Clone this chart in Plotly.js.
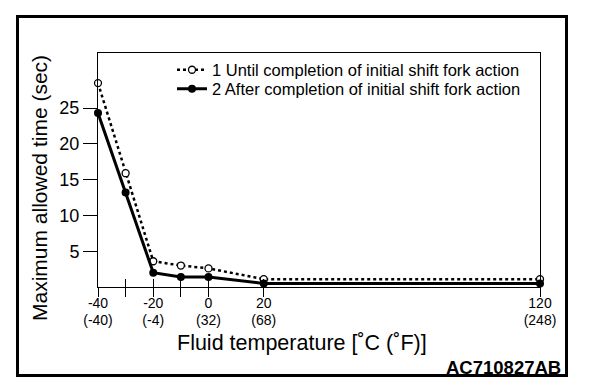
<!DOCTYPE html>
<html>
<head>
<meta charset="utf-8">
<script src="https://cdn.plot.ly/plotly-3.0.1.min.js"></script>
<style>
  html, body { margin: 0; padding: 0; background: #fff; }
  #wrap { position: relative; width: 608px; height: 390px; }
  #chart { position: absolute; left: 0; top: 0; width: 608px; height: 390px; }
  #frame { position: absolute; left: 16px; top: 15px; width: 552px; height: 362px;
           box-sizing: border-box; border: 3px solid #000; pointer-events: none; }
</style>
</head>
<body>
<div id="wrap"><div id="chart"></div><div id="frame"></div></div>
<script>
// ---- data ----
const tempsC = [-40, -30, -20, -10, 0, 20, 120];
const untilInitial = [28.5, 15.9, 3.6, 3.0, 2.6, 1.1, 1.1];
const afterInitial = [24.3, 13.2, 2.0, 1.4, 1.4, 0.5, 0.5];
const seriesNames = ['1 Until completion of initial shift fork action',
                     '2 After completion of initial shift fork action'];
const xTickVals = [-40, -30, -20, -10, 0, 20, 120];
const xTickTop = ['-40', '', '-20', '', '0', '20', '120'];
const xTickBottom = ['(-40)', '', '(-4)', '', '(32)', '(68)', '(248)'];
const yTickVals = [5, 10, 15, 20, 25];
const xTitle = 'Fluid temperature [˚C (˚F)]';
const yTitle = 'Maximum allowed time (sec)';
const figId = 'AC710827AB';

// ---- layout geometry ----
const L = 98, R = 540, T = 53, B = 287;
const W = R - L, H = B - T;
const px2x = p => (p - L) / W;
const py2y = p => (B - p) / H;
const FONT = 'Liberation Sans, Arial, Helvetica, sans-serif';

const traces = [
  {
    x: tempsC, y: untilInitial, name: seriesNames[0], type: 'scatter', mode: 'lines+markers',
    line: { color: '#000', width: 2.5, dash: 'dot' },
    marker: { symbol: 'circle', size: 7, color: '#fff', line: { color: '#000', width: 1.3 } },
    legend: 'legend', hoverinfo: 'skip', cliponaxis: false
  },
  {
    x: tempsC, y: afterInitial, name: seriesNames[1], type: 'scatter', mode: 'lines+markers',
    line: { color: '#000', width: 3 },
    marker: { symbol: 'circle', size: 8, color: '#000' },
    legend: 'legend2', hoverinfo: 'skip', cliponaxis: false
  },
  {
    x: tempsC, y: afterInitial, xaxis: 'x2', yaxis: 'y', type: 'scatter', mode: 'none',
    showlegend: false, hoverinfo: 'skip'
  }
];

const axisCommon = { showgrid: false, zeroline: false, color: '#000', tickcolor: '#000', tickwidth: 1 };

const layout = {
  width: 608, height: 390, autosize: false,
  margin: { l: L, r: 608 - R, t: T, b: 390 - B, pad: 0 },
  paper_bgcolor: '#fff', plot_bgcolor: '#fff',
  font: { family: FONT, color: '#000' },
  showlegend: true,
  xaxis: Object.assign({}, axisCommon, {
    range: [-40, 120], tickmode: 'array', tickvals: xTickVals, ticktext: xTickTop,
    ticks: 'outside', ticklen: 9, showline: true, linewidth: 1, linecolor: '#000', mirror: true,
    ticklabelstandoff: -6,
    tickfont: { size: 14, family: FONT, color: '#000' }
  }),
  xaxis2: Object.assign({}, axisCommon, {
    overlaying: 'x', anchor: 'y', side: 'bottom',
    range: [-40, 120], tickmode: 'array', tickvals: xTickVals, ticktext: xTickBottom,
    ticks: 'inside', ticklen: 8, showline: false, ticklabelstandoff: 23,
    tickfont: { size: 14, family: FONT, color: '#000' }
  }),
  yaxis: Object.assign({}, axisCommon, {
    range: [0, 32.7], tickmode: 'array', tickvals: yTickVals,
    ticks: 'outside', ticklen: 14, showline: true, linewidth: 1, linecolor: '#000', mirror: true,
    tickfont: { size: 18, family: FONT, color: '#000' }
  }),
  legend: {
    x: px2x(172), y: py2y(70), xanchor: 'left', yanchor: 'middle',
    bgcolor: 'rgba(0,0,0,0)', borderwidth: 0,
    font: { size: 16.5, family: FONT, color: '#000' }
  },
  legend2: {
    x: px2x(172), y: py2y(89), xanchor: 'left', yanchor: 'middle',
    bgcolor: 'rgba(0,0,0,0)', borderwidth: 0,
    font: { size: 16.5, family: FONT, color: '#000' }
  },
  annotations: [
    { text: yTitle, xref: 'paper', yref: 'paper', x: px2x(39), y: py2y(188),
      xanchor: 'center', yanchor: 'middle', textangle: -90, showarrow: false,
      font: { size: 21, family: FONT, color: '#000' } },
    { text: xTitle, xref: 'paper', yref: 'paper', x: px2x(302), y: py2y(343),
      xanchor: 'center', yanchor: 'middle', showarrow: false,
      font: { size: 21.5, family: FONT, color: '#000' } },
    { text: '<b>' + figId + '</b>', xref: 'paper', yref: 'paper', x: px2x(563), y: py2y(367),
      xanchor: 'right', yanchor: 'middle', showarrow: false,
      font: { size: 18.5, family: FONT, color: '#000' } }
  ]
};

Plotly.newPlot('chart', traces, layout, { staticPlot: true, displayModeBar: false });
</script>
</body>
</html>
